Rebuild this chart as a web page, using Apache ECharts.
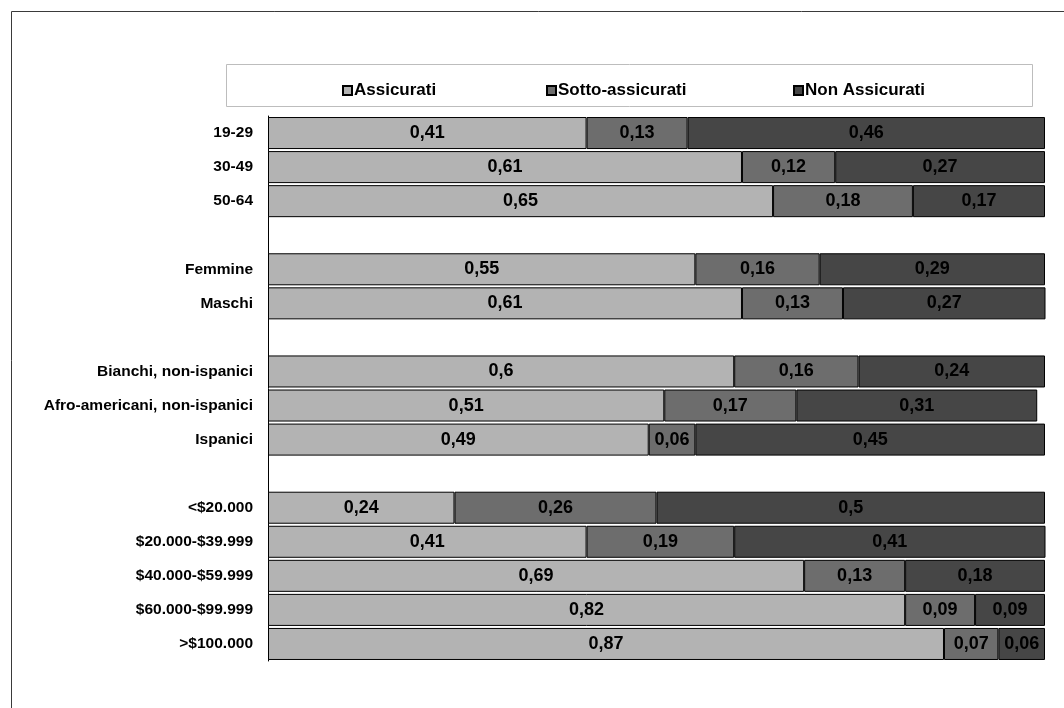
<!DOCTYPE html>
<html>
<head>
<meta charset="utf-8">
<script src="https://cdn.jsdelivr.net/npm/echarts@6/dist/echarts.min.js"></script>
<style>
  html, body { margin: 0; padding: 0; background: #fff; }
  #chart { width: 1064px; height: 708px; }
</style>
</head>
<body>
<div id="chart"></div>
<script>
// Groups (blank entries separate the blocks)
const categories = [
  '19-29', '30-49', '50-64', ' ',
  'Femmine', 'Maschi', '  ',
  'Bianchi, non-ispanici', 'Afro-americani, non-ispanici', 'Ispanici', '   ',
  '<$20.000', '$20.000-$39.999', '$40.000-$59.999', '$60.000-$99.999', '>$100.000'
];

const seriesNames = ['Assicurati', 'Sotto-assicurati', 'Non Assicurati'];

const assicurati = [0.41, 0.61, 0.65, null, 0.55, 0.61, null, 0.6, 0.51, 0.49, null, 0.24, 0.41, 0.69, 0.82, 0.87];
const sottoAssicurati = [0.13, 0.12, 0.18, null, 0.16, 0.13, null, 0.16, 0.17, 0.06, null, 0.26, 0.19, 0.13, 0.09, 0.07];
const nonAssicurati = [0.46, 0.27, 0.17, null, 0.29, 0.27, null, 0.24, 0.31, 0.45, null, 0.5, 0.41, 0.18, 0.09, 0.06];

const seriesValues = [assicurati, sottoAssicurati, nonAssicurati];
const colors = ['#b3b3b3', '#6d6d6d', '#464646'];
const legendLeft = [337, 541, 788];

const font = 'Liberation Sans, Arial, sans-serif';

const chart = echarts.init(document.getElementById('chart'), null, { renderer: 'canvas' });

chart.setOption({
  animation: false,
  backgroundColor: '#ffffff',
  graphic: [
    {
      // outer frame
      type: 'rect',
      shape: { x: 11.5, y: 11.5, width: 1200, height: 900 },
      style: { fill: 'none', stroke: '#3a3a3a', lineWidth: 1 },
      z: 0
    },
    {
      // legend box
      type: 'rect',
      shape: { x: 226.5, y: 64.5, width: 806, height: 42 },
      style: { fill: '#ffffff', stroke: '#bdbdbd', lineWidth: 1 },
      z: 0
    }
  ],
  legend: seriesNames.map((name, i) => ({
    data: [name],
    left: legendLeft[i],
    top: 77,
    itemWidth: 9,
    itemHeight: 9,
    itemGap: 0,
    icon: 'rect',
    selectedMode: false,
    textStyle: {
      fontFamily: font,
      fontWeight: 'bold',
      fontSize: 17,
      color: '#000',
      padding: [0, 0, 0, -3]
    }
  })),
  grid: {
    left: 268,
    right: 19,
    top: 116,
    bottom: 47,
    containLabel: false
  },
  xAxis: {
    type: 'value',
    min: 0,
    max: 1,
    show: false
  },
  yAxis: {
    type: 'category',
    data: categories,
    inverse: true,
    axisLine: { show: true, lineStyle: { color: '#000', width: 1 } },
    axisTick: { show: false },
    splitLine: { show: false },
    axisLabel: {
      margin: 15,
      fontFamily: font,
      fontWeight: 'bold',
      fontSize: 15.5,
      color: '#000'
    }
  },
  series: seriesNames.map((name, i) => ({
    name: name,
    type: 'bar',
    stack: 'totale',
    barCategoryGap: '6%',
    data: seriesValues[i],
    itemStyle: {
      color: colors[i],
      borderColor: '#000',
      borderWidth: 1
    },
    label: {
      show: true,
      position: 'inside',
      fontFamily: font,
      fontWeight: 'bold',
      fontSize: 18,
      color: '#000',
      formatter: p => String(p.value).replace('.', ',')
    }
  }))
});
</script>
</body>
</html>
